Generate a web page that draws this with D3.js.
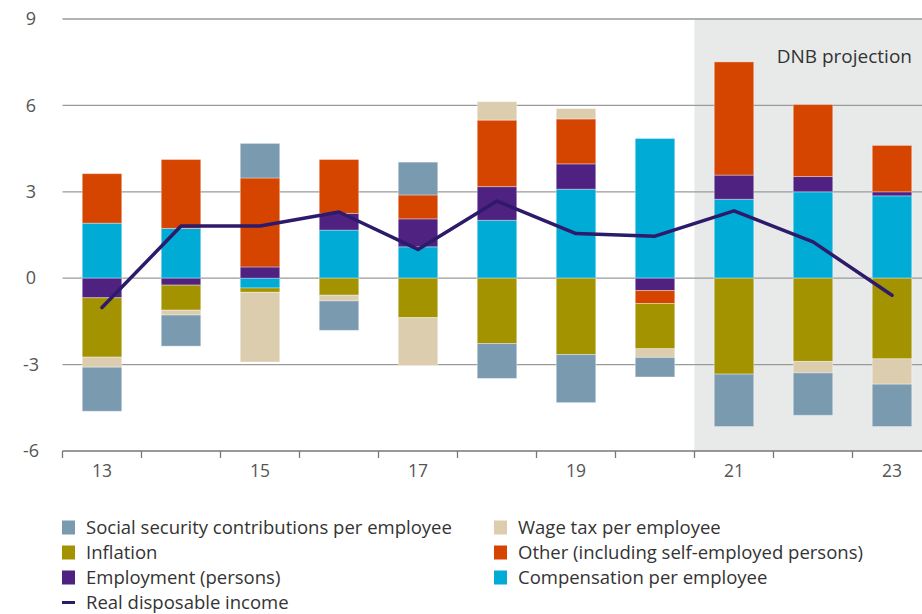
<!DOCTYPE html>
<html>
<head>
<meta charset="utf-8">
<script src="https://cdn.jsdelivr.net/npm/d3@7"></script>
<style>
  body { margin: 0; background: #fff; }
  svg { display: block; font-family: "Open Sans", "Noto Sans", sans-serif; }
</style>
</head>
<body>
<svg id="chart" width="922" height="614"></svg>
<script>
// Contributions to growth of real disposable income (percentage points)
const years = [13, 14, 15, 16, 17, 18, 19, 20, 21, 22, 23];
const compensation   = [1.91, 1.73, -0.34, 1.67, 1.09, 2.01, 3.09, 4.85, 2.74, 3.00, 2.86];
const employment     = [-0.68, -0.24, 0.39, 0.58, 0.97, 1.17, 0.88, -0.43, 0.84, 0.53, 0.14];
const other          = [1.72, 2.39, 3.09, 1.87, 0.83, 2.31, 1.56, -0.45, 3.93, 2.50, 1.61];
const inflation      = [-2.06, -0.87, -0.15, -0.59, -1.37, -2.27, -2.65, -1.57, -3.33, -2.89, -2.80];
const wageTax        = [-0.35, -0.17, -2.42, -0.20, -1.66, 0.64, 0.36, -0.30, 0.00, -0.40, -0.88];
const socialSecurity = [-1.53, -1.08, 1.20, -1.02, 1.14, -1.21, -1.67, -0.68, -1.82, -1.47, -1.47];
const realIncome     = [-1.02, 1.81, 1.81, 2.30, 1.00, 2.68, 1.55, 1.46, 2.34, 1.26, -0.59];
const yTicks = [-6, -3, 0, 3, 6, 9];
const xTickLabels = [13, 15, 17, 19, 21, 23];
const projectionStart = 21;

// Stack order (bottom-up on each side of zero)
const series = [
  { key: "compensation",   label: "Compensation per employee",                values: compensation,   color: "#00abd6" },
  { key: "employment",     label: "Employment (persons)",                     values: employment,     color: "#4f2282" },
  { key: "other",          label: "Other (including self-employed persons)",  values: other,          color: "#d54500" },
  { key: "inflation",      label: "Inflation",                                values: inflation,      color: "#a39300" },
  { key: "wageTax",        label: "Wage tax per employee",                    values: wageTax,        color: "#dccdae" },
  { key: "socialSecurity", label: "Social security contributions per employee", values: socialSecurity, color: "#7a9ab0" }
];
const lineColor = "#2e1a6a";

const svg = d3.select("#chart");
const W = 922;

const x = d3.scaleBand()
  .domain(years)
  .range([62.5, 931.5])
  .paddingInner(0.5)
  .paddingOuter(0.25);
const step = x.step();
const y = d3.scaleLinear().domain([-6, 9]).range([451, 19]);

const table = years.map((yr, i) => {
  const row = { year: yr };
  series.forEach(s => row[s.key] = s.values[i]);
  return row;
});
const stacked = d3.stack()
  .keys(series.map(s => s.key))
  .offset(d3.stackOffsetDiverging)(table);

// Projection background
const projX = x(projectionStart) - step * 0.25;
svg.append("rect")
  .attr("x", projX).attr("y", y(9))
  .attr("width", W - projX).attr("height", y(-6) - y(9))
  .attr("fill", "#e8eaea");

// Gridlines
svg.append("g").selectAll("line")
  .data(yTicks.filter(t => t !== -6))
  .join("line")
  .attr("x1", 62.5).attr("x2", W)
  .attr("y1", d => y(d)).attr("y2", d => y(d))
  .attr("stroke", "#9a9a9a").attr("stroke-width", 1.3);

// Y labels
const yAxis = svg.append("g")
  .attr("transform", "translate(44,0)")
  .call(d3.axisLeft(y).tickValues(yTicks).tickSize(0).tickPadding(0).tickFormat(d => String(d)));
yAxis.select(".domain").remove();
yAxis.selectAll("text")
  .attr("font-size", 18).attr("fill", "#555")
  .attr("font-family", "'Open Sans', sans-serif")
  .attr("text-anchor", "middle").attr("dx", -13);

// Stacked bars
svg.append("g").selectAll("g")
  .data(stacked)
  .join("g")
  .attr("fill", (d, i) => series[i].color)
  .selectAll("rect")
  .data(d => d)
  .join("rect")
  .attr("x", d => x(d.data.year))
  .attr("width", x.bandwidth())
  .attr("y", d => y(Math.max(d[0], d[1])))
  .attr("height", d => Math.abs(y(d[0]) - y(d[1])))
  .attr("stroke", "#fff").attr("stroke-opacity", 0.35).attr("stroke-width", 1);

// Real disposable income line
svg.append("path")
  .datum(years.map((yr, i) => [yr, realIncome[i]]))
  .attr("fill", "none")
  .attr("stroke", lineColor)
  .attr("stroke-width", 3.5)
  .attr("stroke-linejoin", "round")
  .attr("stroke-linecap", "round")
  .attr("d", d3.line().x(d => x(d[0]) + x.bandwidth() / 2).y(d => y(d[1])));

// X axis: baseline, boundary ticks and labels
const xAxis = svg.append("g")
  .attr("transform", `translate(0,${y(-6)})`)
  .call(d3.axisBottom(x).tickSize(0).tickPadding(14)
    .tickFormat(d => xTickLabels.includes(d) ? String(d) : ""));
xAxis.select(".domain").remove();
xAxis.selectAll("text")
  .attr("font-size", 17.5).attr("fill", "#555")
  .attr("font-family", "'Open Sans', sans-serif");
xAxis.append("line")
  .attr("x1", 62.5).attr("x2", W).attr("y1", 0).attr("y2", 0)
  .attr("stroke", "#777").attr("stroke-width", 1.3);
xAxis.selectAll(".bticks")
  .data(years)
  .join("line")
  .attr("x1", d => x(d) - step * 0.25).attr("x2", d => x(d) - step * 0.25)
  .attr("y1", 0).attr("y2", 7)
  .attr("stroke", "#777").attr("stroke-width", 1.3);

// Projection label
svg.append("text")
  .attr("x", 912).attr("y", 63)
  .attr("text-anchor", "end")
  .attr("font-size", 19).attr("fill", "#333")
  .text("DNB projection");

// Legend
const legendItems = [
  { s: "socialSecurity", col: 0, row: 0 },
  { s: "wageTax",        col: 1, row: 0 },
  { s: "inflation",      col: 0, row: 1 },
  { s: "other",          col: 1, row: 1 },
  { s: "employment",     col: 0, row: 2 },
  { s: "compensation",   col: 1, row: 2 }
];
const colX = [62, 494];
const rowY = r => 527.5 + r * 25;
const legend = svg.append("g");
legendItems.forEach(it => {
  const s = series.find(d => d.key === it.s);
  const g = legend.append("g").attr("transform", `translate(${colX[it.col]},${rowY(it.row)})`);
  g.append("rect").attr("x", 0).attr("y", -7).attr("width", 13).attr("height", 14).attr("fill", s.color);
  g.append("text").attr("x", 24).attr("y", 6).attr("font-size", 18.5).attr("fill", "#333").text(s.label);
});
const lg = legend.append("g").attr("transform", `translate(${colX[0]},${rowY(3)})`);
lg.append("line").attr("x1", 0).attr("x2", 13).attr("y1", 0).attr("y2", 0)
  .attr("stroke", lineColor).attr("stroke-width", 3);
lg.append("text").attr("x", 24).attr("y", 6).attr("font-size", 18.5).attr("fill", "#333").text("Real disposable income");
</script>
</body>
</html>
